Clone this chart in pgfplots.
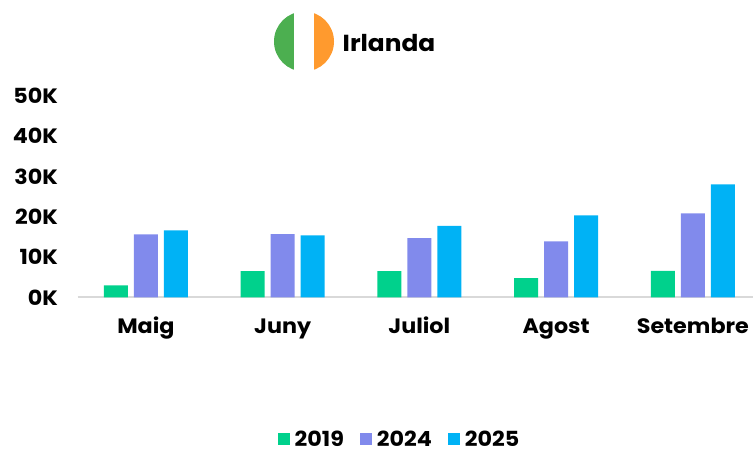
\documentclass[border=0pt]{standalone}
\usepackage{pgfplots}
\pgfplotsset{compat=1.18}
\usepackage{fontspec}
\setmainfont{Poppins}[BoldFont={Poppins Bold},FakeStretch=1.07]
\definecolor{cga}{HTML}{00D18C}
\definecolor{cgb}{HTML}{818AEC}
\definecolor{cgc}{HTML}{00B2F5}
\definecolor{flaggreen}{HTML}{4CAF50}
\definecolor{flagorange}{HTML}{FF9A2E}
\definecolor{baseline}{HTML}{D9D9D9}
\begin{document}
\begin{tikzpicture}[x=1pt,y=1pt]
\useasboundingbox (0,0) rectangle (753,449);
\begin{scope}
\clip (304,407.5) circle (30);
\fill[flaggreen] (270,370) rectangle (294,440);
\fill[flagorange] (314,370) rectangle (340,440);
\end{scope}
\node[anchor=west,inner sep=0pt,font=\bfseries\fontsize{23.2}{24}\selectfont] at (342.5,406) {Irlanda};
\begin{axis}[
  at={(77.5pt,151.5pt)}, anchor=south west,
  scale only axis, width=675.5pt, height=202pt,
  ybar, bar width=24pt,
  xmin=-0.5, xmax=4.44, ymin=0, ymax=50,
  axis x line*=bottom, axis y line*=left,
  x axis line style={draw=baseline,line width=2pt,-},
  y axis line style={draw=none},
  major tick length=0pt,
  xtick={0,1,2,3,4},
  xticklabels={Maig,Juny,Juliol,Agost,Setembre},
  ytick={0,10,20,30,40,50},
  yticklabels={0K,10K,20K,30K,40K,50K},
  tick label style={font=\bfseries\fontsize{20.8}{21}\selectfont,text=black},
  xticklabel style={text height=15pt,text depth=6pt,yshift=-17pt},
  yticklabel style={xshift=-16pt},
  clip=false,
  legend style={at={(322pt,-141.5pt)},anchor=center,draw=none,fill=none,
    font=\bfseries\fontsize{20.8}{21}\selectfont,
    legend columns=3,
    /tikz/every even column/.append style={column sep=14pt},
    /tikz/every odd column/.append style={column sep=3pt},
    inner sep=1pt},
  legend image code/.code={\fill[#1] (0pt,-6pt) rectangle (12pt,6pt);},
]
\addplot[fill=cga,draw=none,bar shift=-30pt] coordinates {(0,3.0) (1,6.5) (2,6.5) (3,4.8) (4,6.6)};
\addplot[fill=cgb,draw=none,bar shift=0pt] coordinates {(0,15.6) (1,15.7) (2,14.7) (3,13.9) (4,20.8)};
\addplot[fill=cgc,draw=none,bar shift=30pt] coordinates {(0,16.6) (1,15.4) (2,17.7) (3,20.3) (4,28.0)};
\legend{2019,2024,2025}
\end{axis}
\end{tikzpicture}
\end{document}
